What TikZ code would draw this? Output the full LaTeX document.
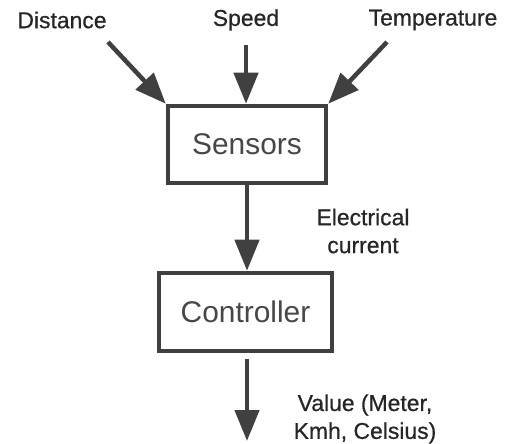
\documentclass[tikz,border=0pt]{standalone}
\usepackage{fontspec}
\setmainfont{Liberation Sans}
\newfontfamily\medfont[FakeBold=0.6]{Liberation Sans}
\usetikzlibrary{arrows.meta}
\definecolor{linec}{HTML}{404040}
\definecolor{boxtext}{HTML}{474747}
\definecolor{labtext}{HTML}{262626}
\tikzset{
  blockbox/.style={draw=linec, line width=4.5bp, fill=white, text=boxtext,
    font=\fontsize{30}{36}\selectfont, inner sep=0pt},
  lab/.style={text=labtext, font=\medfont\fontsize{23}{28}\selectfont, align=center, inner sep=0pt},
  flow/.style={draw=linec, line width=4.5bp,
    -{Triangle[length=31bp, width=24bp]}}
}
\begin{document}
\begin{tikzpicture}[x=1bp, y=-1bp]
\useasboundingbox (0,0) rectangle (508,444);
\node[blockbox, minimum width=158bp, minimum height=77bp] (sens) at (247,144.5) {Sensors};
\node[blockbox, minimum width=173bp, minimum height=78bp] (ctrl) at (245.5,312) {Controller};
\node[lab] (ldist) at (62,20) {Distance};
\node[lab] (lspeed) at (246,20) {Speed};
\node[lab] (ltemp) at (433,20) {Temperature};
\node[lab] (lelec) at (363,231) {Electrical\\current};
\node[lab] (lval) at (365,419) {Value (Meter,\\Kmh, Celsius)};
\coordinate (sdist) at (108,42);
\coordinate (sspeed) at (246,45);
\coordinate (stemp) at (387,42);
\coordinate (outend) at (247,441);
\draw[flow] (sdist) -- (sens.north west);
\draw[flow] (sspeed) -- (sens.north west -| sspeed);
\draw[flow] (stemp) -- (sens.north east);
\draw[flow] (sens.south) -- (sens.south |- ctrl.north);
\draw[flow, shorten <=6bp] (ctrl.south -| outend) -- (outend);
\end{tikzpicture}
\end{document}
